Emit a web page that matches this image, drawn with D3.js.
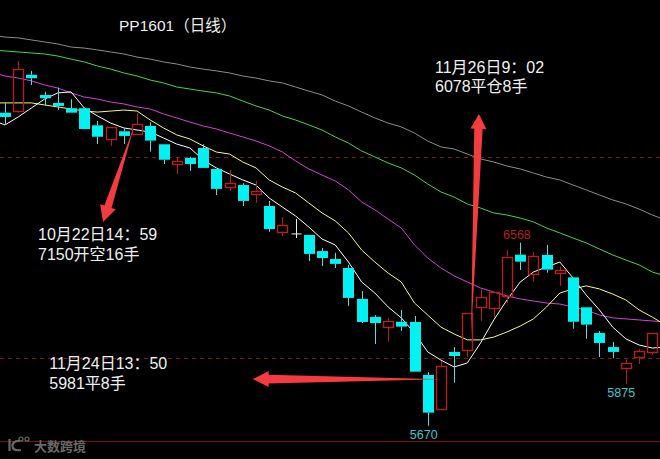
<!DOCTYPE html>
<html><head><meta charset="utf-8">
<style>html,body{margin:0;padding:0;background:#000;overflow:hidden}svg{display:block}</style>
<script src="https://cdn.jsdelivr.net/npm/d3@7/dist/d3.min.js"></script>
</head><body><svg id="c" width="660" height="459"></svg>
<script>
const title = "PP1601（日线）";
const opens  = [7206,7214,7392,7293,7254,7228,7228,7144,7075,7115,7103,7141,7051,6956,6984,7033,6930,6843,6851,6806,6748,6622,6611,6606,6527,6488,6444,6292,6204,6156,6180,6179,5919,5753,6032,6040,6254,6249,6308,6509,6416,6508,6421,6398,6251,6125,6056,5952,6009,6033];
const highs  = [7252,7460,7411,7309,7329,7272,7230,7165,7134,7129,7203,7159,7051,6990,6990,7051,6930,6925,6860,6871,6773,6694,6684,6606,6542,6518,6459,6331,6213,6199,6238,6208,5934,5988,6056,6223,6341,6325,6532,6568,6522,6557,6450,6398,6251,6135,6081,5996,6045,6126];
const lows   = [7146,7206,7342,7240,7219,7206,7126,7052,7043,7052,7097,7015,6954,6905,6921,6935,6802,6822,6748,6764,6621,6601,6591,6478,6454,6444,6258,6174,6071,6082,6135,5935,5670,5751,5881,6007,6184,6200,6272,6434,6377,6421,6357,6146,6097,6007,6002,5875,5973,6017];
const closes = [7185,7420,7375,7277,7239,7206,7126,7088,7134,7092,7149,7069,6975,6969,6954,6935,6832,6861,6773,6823,6635,6655,6611,6513,6493,6464,6297,6179,6174,6184,6156,5935,5734,5962,6012,6223,6300,6325,6499,6475,6501,6436,6433,6180,6166,6076,6032,5976,6035,6126];

// moving averages, one point before the first candle to one after the last
const ma5  = [7170,7146,7185,7229,7273,7303,7308,7229,7190,7155,7131,7121,7111,7082,7052,7033,6974,6935,6905,6876,6851,6787,6743,6699,6645,6586,6557,6473,6375,6321,6253,6199,6125,6032,5992,5958,5978,6076,6189,6287,6375,6424,6449,6473,6395,6311,6238,6154,6096,6066,6051,6056];
const ma10 = [7254,7254,7254,7254,7244,7234,7224,7214,7209,7214,7219,7214,7170,7131,7097,7077,7043,7013,7003,6964,6935,6876,6841,6812,6763,6714,6675,6616,6532,6473,6419,6375,6272,6213,6154,6120,6091,6091,6105,6130,6159,6194,6253,6321,6341,6356,6341,6316,6287,6238,6203,6164];
const ma20 = [7406,7386,7376,7362,7342,7327,7303,7283,7273,7258,7249,7234,7224,7200,7180,7160,7141,7126,7106,7087,7067,7043,7013,6969,6930,6900,6871,6827,6768,6729,6684,6640,6557,6493,6444,6405,6375,6346,6326,6307,6292,6282,6272,6267,6253,6238,6213,6199,6194,6189,6184,6179];
const ma40 = [7514,7509,7504,7499,7494,7484,7469,7455,7435,7420,7401,7386,7366,7352,7332,7322,7312,7303,7288,7263,7239,7219,7190,7170,7146,7121,7087,7057,7018,6989,6959,6935,6900,6856,6817,6792,6758,6738,6714,6704,6689,6670,6640,6616,6591,6567,6537,6508,6483,6459,6424,6405];
const ma60 = [7587,7577,7573,7563,7553,7543,7528,7523,7514,7504,7494,7479,7469,7455,7445,7430,7420,7411,7401,7386,7376,7362,7352,7332,7312,7293,7263,7239,7209,7180,7155,7136,7106,7067,7038,7028,7003,6979,6964,6944,6930,6910,6890,6876,6851,6827,6802,6778,6758,6733,6704,6679];

const dashedLevels = [6990, 6001];
const solidLevel = 5595;

const notes = [
  {lines:["10月22日14：59","7150开空16手"], i:2.5, p:[6581,6483]},
  {lines:["11月24日13：50","5981平8手"], i:3.35, p:[5948,5850]},
  {lines:["11月26日9：02","6078平仓8手"], i:32.55, p:[7401,7306]}
];
const peakLabels = [
  {text:"6568", i:38.75, p:6585, color:"#b02020"},
  {text:"5670", i:31.7, p:5605, color:"#3fc6cf"},
  {text:"5875", i:46.65, p:5812, color:"#3fc6cf"}
];
const arrows = [
  {from:[9.76,7136], to:[7.42,6670], head:16, neck:3.8, barb:8.2},
  {from:[35.28,6115], to:[35.88,7200], head:15, neck:4.2, barb:8},
  {from:[33.06,5898], to:[18.75,5899], head:16, neck:4.4, barb:8}
];

const svg = d3.select("#c");
svg.append("rect").attr("width",660).attr("height",459).attr("fill","#000");
const x = d3.scaleLinear().domain([0,49]).range([5,652.3]);
const y = d3.scaleLinear().domain([5670,6568]).range([425.7,242.7]);
const FONT = "'Liberation Sans','Noto Sans CJK SC',sans-serif";
const RED = "#b51f1f", CYAN = "#00f2f2", WICK = "#5cdcdc";
const snap = v => Math.round(v)+.5;

// reference levels
svg.selectAll("line.lvl").data(dashedLevels).join("line").attr("class","lvl")
  .attr("x1",0).attr("x2",660).attr("y1",d=>snap(y(d))).attr("y2",d=>snap(y(d)))
  .attr("stroke","#7a1a1a").attr("stroke-dasharray","4 4");
svg.append("line").attr("x1",0).attr("x2",660).attr("y1",snap(y(solidLevel))).attr("y2",snap(y(solidLevel)))
  .attr("stroke","#7a1218");

// moving averages
const lineGen = d3.line().x((d,k)=>x(k-1)).y(d=>y(d));
[[ma60,"#8c8c8c"],[ma40,"#4ed04e"],[ma20,"#d640d6"],[ma10,"#fafa78"],[ma5,"#ffffff"]].forEach(([s,c])=>{
  svg.append("path").datum(s).attr("d",lineGen).attr("fill","none").attr("stroke",c).attr("stroke-width",1);
});

// candles
const candles = opens.map((o,i)=>({i,o,h:highs[i],l:lows[i],c:closes[i]}));
const kind = d => d.o===d.c ? "doji" : d.c>d.o ? "up" : "down";
const g = svg.append("g");
const cx = d => Math.round(x(d.i))+.5;
const bodyTop = d => Math.max(d.o,d.c), bodyBot = d => Math.min(d.o,d.c);
const wickColor = d => ({up:RED,down:WICK,doji:"#eee"})[kind(d)];
g.selectAll("line.wh").data(candles).join("line").attr("class","wh")
  .attr("x1",cx).attr("x2",cx).attr("y1",d=>y(d.h)).attr("y2",d=>y(bodyTop(d))).attr("stroke",wickColor);
g.selectAll("line.wl").data(candles).join("line").attr("class","wl")
  .attr("x1",cx).attr("x2",cx).attr("y1",d=>y(bodyBot(d))).attr("y2",d=>y(d.l)).attr("stroke",wickColor);
g.selectAll("rect.b").data(candles.filter(d=>kind(d)==="down")).join("rect").attr("class","b")
  .attr("x",d=>cx(d)-5.5).attr("width",11).attr("y",d=>y(d.o)).attr("height",d=>y(d.c)-y(d.o)).attr("fill",CYAN);
g.selectAll("rect.u").data(candles.filter(d=>kind(d)==="up")).join("rect").attr("class","u")
  .attr("x",d=>cx(d)-5).attr("width",10).attr("y",d=>snap(y(d.c))).attr("height",d=>Math.max(2,snap(y(d.o))-snap(y(d.c))))
  .attr("fill","none").attr("stroke",RED).attr("stroke-width",1.4);
g.selectAll("line.d").data(candles.filter(d=>kind(d)==="doji")).join("line").attr("class","d")
  .attr("x1",d=>cx(d)-5).attr("x2",d=>cx(d)+5).attr("y1",d=>y(d.o)).attr("y2",d=>y(d.o)).attr("stroke","#eee");

// arrows
arrows.forEach(a=>{
  const tx=x(a.from[0]),ty=y(a.from[1]),hx=x(a.to[0]),hy=y(a.to[1]);
  const L=Math.hypot(hx-tx,hy-ty),ux=(hx-tx)/L,uy=(hy-ty)/L,nx=-uy,ny=ux;
  const bx=hx-ux*a.head,by=hy-uy*a.head;
  const pts=[[tx,ty],[bx+nx*a.neck,by+ny*a.neck],[bx+nx*a.barb,by+ny*a.barb],[hx,hy],[bx-nx*a.barb,by-ny*a.barb],[bx-nx*a.neck,by-ny*a.neck]];
  svg.append("polygon").attr("points",pts.map(p=>p.join(",")).join(" ")).attr("fill","#f23c40");
});

// texts
svg.append("text").attr("x",119).attr("y",31).attr("fill","#eee").attr("font-family",FONT).attr("font-size",15.5).text(title);
notes.forEach(n=>n.lines.forEach((t,k)=>{
  svg.append("text").attr("x",x(n.i)).attr("y",y(n.p[k])).attr("fill","#f0f0f0")
    .attr("font-family",FONT).attr("font-size",16).text(t);
}));
svg.selectAll("text.pk").data(peakLabels).join("text").attr("class","pk")
  .attr("x",d=>x(d.i)).attr("y",d=>y(d.p)).attr("text-anchor","middle").attr("fill",d=>d.color)
  .attr("font-family",FONT).attr("font-size",12.5).text(d=>d.text);

// watermark
const wm = svg.append("g").attr("stroke","#6a6a6a").attr("fill","none");
wm.append("path").attr("d","M9.5 439V451").attr("stroke-width",2.2);
wm.append("path").attr("d","M20 441C14 440 12.5 444 12.5 446C12.5 449 15 451 21 450").attr("stroke-width",2.2);
wm.append("circle").attr("cx",21).attr("cy",439).attr("r",2).attr("stroke-width",1.2);
wm.append("circle").attr("cx",27).attr("cy",439).attr("r",2).attr("stroke-width",1.2);
svg.append("text").attr("x",34).attr("y",451).attr("fill","#6a6a6a").attr("font-family",FONT)
  .attr("font-size",13).attr("font-weight","bold").text("大数跨境");
</script></body></html>
